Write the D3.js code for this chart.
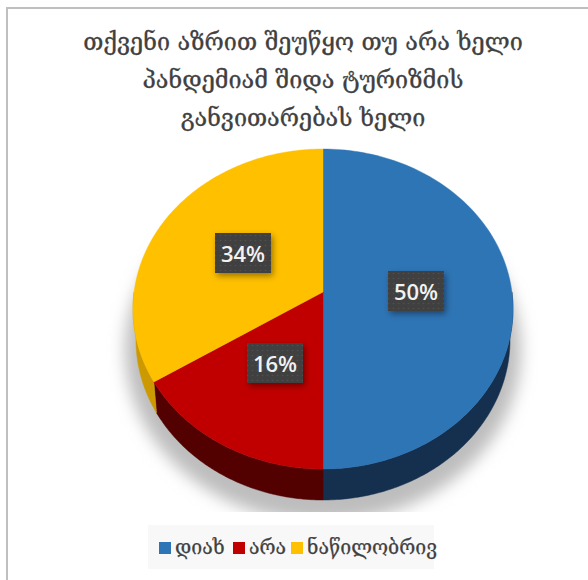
<!DOCTYPE html>
<html>
<head>
<meta charset="utf-8">
<style>
  html, body { margin: 0; padding: 0; background: #fff; }
  svg { display: block; }
</style>
<script src="https://cdn.jsdelivr.net/npm/d3@7"></script>
</head>
<body>
<svg id="chart" width="588" height="580"></svg>
<script>
const categories = ["დიახ", "არა", "ნაწილობრივ"];
const shares = [50, 16, 34];
const sliceColors = ["#2e75b6", "#c00000", "#ffc000"];
const sideColors = ["#152f4e", "#520000", "#cc9a00"];
const titleLines = [
  "თქვენი აზრით შეუწყო თუ არა ხელი",
  "პანდემიამ შიდა ტურიზმის",
  "განვითარებას ხელი"
];
const georgianFont = "'DejaVu Serif', 'DejaVu Sans', serif";

const svg = d3.select("#chart");
const defs = svg.append("defs");

defs.append("filter").attr("id", "soft").attr("x", "-20%").attr("y", "-20%").attr("width", "140%").attr("height", "140%")
  .append("feGaussianBlur").attr("stdDeviation", 8);
const labelShadow = defs.append("filter").attr("id", "tagShadow").attr("x", "-30%").attr("y", "-30%").attr("width", "170%").attr("height", "170%");
labelShadow.append("feDropShadow").attr("dx", 2).attr("dy", 3).attr("stdDeviation", 3).attr("flood-color", "#000").attr("flood-opacity", 0.4);
const dots = defs.append("pattern").attr("id", "tagDots").attr("width", 5).attr("height", 5).attr("patternUnits", "userSpaceOnUse");
dots.append("rect").attr("width", 5).attr("height", 5).attr("fill", "#404040");
dots.append("circle").attr("cx", 2.5).attr("cy", 2.5).attr("r", 0.8).attr("fill", "#505050");
defs.append("clipPath").attr("id", "shadowClip").append("rect").attr("x", 0).attr("y", 0).attr("width", 588).attr("height", 512);

// Outer frame
svg.append("rect").attr("x", 7).attr("y", 8).attr("width", 590).attr("height", 590)
  .attr("fill", "#fff").attr("stroke", "#bfbfbf").attr("stroke-width", 2);

// Title
svg.append("g").selectAll("text").data(titleLines).join("text")
  .attr("x", 303).attr("y", (d, i) => 50 + i * 38)
  .attr("text-anchor", "middle")
  .attr("font-family", georgianFont).attr("font-size", 23.4)
  .attr("fill", "#404040").attr("stroke", "#404040").attr("stroke-width", 0.3).text(d => d);

// Tilted pie geometry: the rim is an ellipse, and the hub sits off its middle
// because the disc is seen in perspective.
const cx = 323, cy = 309, rx = 190, ry = 160, depth = 31, lowerRx = 187, hubShift = 0.106;

// Projects a pie angle onto the unit rim, keeping the circle a circle.
function rim(angle) {
  const u = Math.sin(angle), v = Math.cos(angle);
  const w = 1 + hubShift * v;
  return [u * Math.sqrt(1 - hubShift * hubShift) / w, (v + hubShift) / w];
}
const topPoint = a => { const [u, v] = rim(a); return [cx + rx * u, cy - ry * v]; };
const lowPoint = a => { const [u, v] = rim(a); return [cx + lowerRx * u, cy + depth - ry * v]; };
const hub = [cx, cy - ry * hubShift];

const pie = d3.pie().sort(null).value(d => d);
const arcs = pie(shares);
const line = d3.line();
const sweep = (a0, a1) => d3.range(0, 121).map(i => a0 + (a1 - a0) * i / 120);

// Soft shadow under the disc, cut off along the bottom
svg.append("g").attr("clip-path", "url(#shadowClip)").append("ellipse")
  .attr("cx", cx).attr("cy", cy + 41).attr("rx", 198).attr("ry", 172)
  .attr("fill", "#bdbdbd").attr("filter", "url(#soft)");

// Side wall, only where it faces the viewer
const g = svg.append("g");
arcs.forEach((d, i) => {
  const a0 = Math.max(d.startAngle, Math.PI / 2), a1 = Math.min(d.endAngle, Math.PI * 1.5);
  if (a1 <= a0) return;
  const angles = sweep(a0, a1);
  g.append("path")
    .attr("d", line(angles.map(topPoint).concat(angles.slice().reverse().map(lowPoint))) + "Z")
    .attr("fill", sideColors[i]).attr("stroke", sideColors[i]).attr("stroke-width", 0.5);
});

// Top face
arcs.forEach((d, i) => {
  g.append("path")
    .attr("d", line([hub].concat(sweep(d.startAngle, d.endAngle).map(topPoint))) + "Z")
    .attr("fill", sliceColors[i]).attr("stroke", sliceColors[i]).attr("stroke-width", 0.4);
});

// Value tags
const tagCentres = [[416, 291], [275, 363], [243, 253]];
const tags = svg.append("g").selectAll("g").data(shares).join("g")
  .attr("transform", (d, i) => `translate(${tagCentres[i][0]},${tagCentres[i][1]})`);
tags.append("rect").attr("x", -28).attr("y", -20).attr("width", 56).attr("height", 40)
  .attr("fill", "url(#tagDots)").attr("filter", "url(#tagShadow)");
tags.append("text").attr("text-anchor", "middle").attr("y", 9)
  .attr("font-family", "'Open Sans', 'Noto Sans', sans-serif").attr("font-weight", 600).attr("font-size", 22)
  .attr("fill", "#f2f2f2").text(d => d + "%");

// Legend
svg.append("rect").attr("x", 148).attr("y", 525).attr("width", 286).attr("height", 44).attr("fill", "#f8f8f8");
const legendX = [159, 233, 291];
const legend = svg.append("g").selectAll("g").data(categories).join("g")
  .attr("transform", (d, i) => `translate(${legendX[i]},0)`);
legend.append("rect").attr("y", 542).attr("width", 12).attr("height", 12).attr("fill", (d, i) => sliceColors[i]);
legend.append("text").attr("x", 16).attr("y", 554)
  .attr("font-family", georgianFont).attr("font-size", 19.5)
  .attr("fill", "#404040").attr("stroke", "#404040").attr("stroke-width", 0.25).text(d => d);
</script>
</body>
</html>
